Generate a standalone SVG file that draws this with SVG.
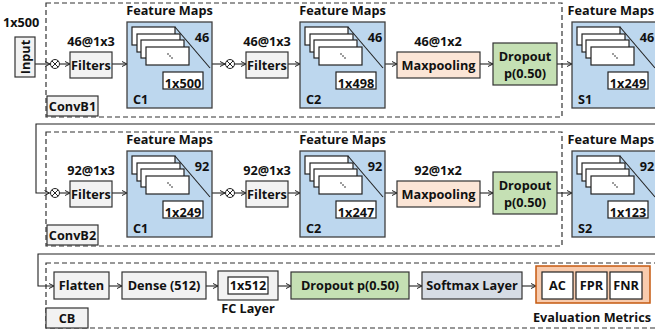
<svg xmlns="http://www.w3.org/2000/svg" width="655" height="333" viewBox="0 0 655 333">
<defs>
<style>
text{font-family:"Open Sans","Noto Sans","Liberation Sans",sans-serif;font-weight:700;fill:#111;}
.t{font-size:12.7px;text-anchor:middle;}
.tl{font-size:12.7px;}
.te{font-size:12.7px;text-anchor:end;}
.box{fill:#f2f2f2;stroke:#333;stroke-width:1.2;}
.wb{fill:#fff;stroke:#222;stroke-width:1.2;}
.fm{fill:#bdd7ee;stroke:#404040;stroke-width:1.3;}
.dash{fill:none;stroke:#333;stroke-width:1.2;stroke-dasharray:5,3;}
.arr{fill:none;stroke:#222;stroke-width:1.1;marker-end:url(#ah);}
.mp{fill:#fbe5d6;stroke:#333;stroke-width:1.2;}
.dr{fill:#c5e0b4;stroke:#333;stroke-width:1.2;}
.sm{fill:#d6dce5;stroke:#333;stroke-width:1.2;}
.ev{fill:#f8cbad;stroke:#c55a11;stroke-width:1.5;}
</style>
<marker id="ah" markerWidth="6" markerHeight="6" refX="5.5" refY="3" orient="auto" markerUnits="userSpaceOnUse">
<path d="M0.5,0.5 L5.5,3 L0.5,5.5" fill="none" stroke="#222" stroke-width="1"/>
</marker>
<g id="fmap">
<rect class="fm" x="0" y="0" width="85" height="86"/>
<rect class="wb" x="5" y="5" width="43" height="18"/>
<rect class="wb" x="10" y="12" width="43" height="18"/>
<rect class="wb" x="14" y="18" width="43" height="18"/>
<rect class="wb" x="19" y="25" width="43" height="18"/>
<line x1="48" y1="5" x2="83" y2="46" stroke="#222" stroke-width="1.1"/>
<circle cx="41" cy="32" r="0.8" fill="#222"/>
<circle cx="43" cy="34" r="0.8" fill="#222"/>
<circle cx="45" cy="36" r="0.8" fill="#222"/>
<rect class="wb" x="36" y="50" width="40" height="17"/>
</g>
<g id="otimes">
<circle cx="0" cy="0" r="4.5" fill="#fff" stroke="#222" stroke-width="1"/>
<line x1="-3.2" y1="-3.2" x2="3.2" y2="3.2" stroke="#222" stroke-width="1"/>
<line x1="-3.2" y1="3.2" x2="3.2" y2="-3.2" stroke="#222" stroke-width="1"/>
</g>
</defs>
<rect width="655" height="333" fill="#fff"/>

<!-- containers -->
<g id="convb1">
<rect class="dash" x="46" y="3" width="516" height="114"/>
<rect class="box" x="47" y="96" width="51" height="20"/>
<text class="t" x="72.5" y="110.5">ConvB1</text>
</g>
<g id="convb2">
<rect class="dash" x="46" y="132" width="516" height="114"/>
<rect class="box" x="47" y="225" width="51" height="20"/>
<text class="t" x="72.5" y="239.5">ConvB2</text>
</g>
<g id="cb">
<rect class="dash" x="46" y="263" width="640" height="65"/>
<rect class="box" x="46" y="308" width="42" height="20"/>
<text class="t" x="67" y="322.5">CB</text>
</g>

<!-- connectors -->
<g id="connectors">
<line class="arr" x1="35" y1="64" x2="50" y2="64"/>
<line class="arr" x1="59.5" y1="64" x2="70" y2="64"/>
<line class="arr" x1="112" y1="64" x2="127" y2="64"/>
<line class="arr" x1="212" y1="64" x2="225" y2="64"/>
<line class="arr" x1="234.5" y1="64" x2="246" y2="64"/>
<line class="arr" x1="288" y1="64" x2="300" y2="64"/>
<line class="arr" x1="385" y1="64" x2="397" y2="64"/>
<line class="arr" x1="480" y1="64" x2="493" y2="64"/>
<line class="arr" x1="557" y1="64" x2="572" y2="64"/>
<polyline class="arr" points="660,124 36,124 36,193 49.5,193"/>
<line class="arr" x1="59.5" y1="193" x2="70" y2="193"/>
<line class="arr" x1="112" y1="193" x2="127" y2="193"/>
<line class="arr" x1="212" y1="193" x2="225" y2="193"/>
<line class="arr" x1="234.5" y1="193" x2="246" y2="193"/>
<line class="arr" x1="288" y1="193" x2="300" y2="193"/>
<line class="arr" x1="385" y1="193" x2="397" y2="193"/>
<line class="arr" x1="480" y1="193" x2="493" y2="193"/>
<line class="arr" x1="557" y1="193" x2="572" y2="193"/>
<polyline class="arr" points="660,254 38,254 38,286 54,286"/>
<line class="arr" x1="109" y1="286" x2="122" y2="286"/>
<line class="arr" x1="206" y1="286" x2="218" y2="286"/>
<line class="arr" x1="278" y1="286" x2="291" y2="286"/>
<line class="arr" x1="409" y1="286" x2="422" y2="286"/>
<line class="arr" x1="522" y1="286" x2="536" y2="286"/>
</g>

<!-- row 1 -->
<g id="input">
<text class="tl" x="3" y="27">1x500</text>
<rect class="box" x="15" y="37" width="20" height="40"/>
<text class="t" transform="translate(29.5,57) rotate(-90)">Input</text>
</g>
<g id="mul1"><use href="#otimes" x="55" y="64"/></g>
<g id="filters1">
<text class="t" x="91" y="46">46@1x3</text>
<rect class="box" x="70" y="52" width="42" height="26"/>
<text class="t" x="91" y="69.5">Filters</text>
</g>
<g id="c1a">
<text class="t" x="169.5" y="15">Feature Maps</text>
<use href="#fmap" x="127" y="22"/>
<text class="t" x="202" y="42">46</text>
<text class="t" x="183" y="88">1x500</text>
<text class="tl" x="133" y="104">C1</text>
</g>
<g id="mul2"><use href="#otimes" x="230" y="64"/></g>
<g id="filters2">
<text class="t" x="267" y="46">46@1x3</text>
<rect class="box" x="246" y="52" width="42" height="26"/>
<text class="t" x="267" y="69.5">Filters</text>
</g>
<g id="c2a">
<text class="t" x="342.5" y="15">Feature Maps</text>
<use href="#fmap" x="300" y="22"/>
<text class="t" x="375" y="42">46</text>
<text class="t" x="356" y="88">1x498</text>
<text class="tl" x="306" y="104">C2</text>
</g>
<g id="maxpool1">
<text class="t" x="438" y="46">46@1x2</text>
<rect class="mp" x="397" y="52" width="83" height="26"/>
<text class="t" x="438.5" y="69.5">Maxpooling</text>
</g>
<g id="dropout1">
<rect class="dr" x="493" y="43" width="64" height="42"/>
<text class="t" x="525" y="61">Dropout</text>
<text class="t" x="525" y="78">p(0.50)</text>
</g>
<g id="s1">
<text class="te" x="654" y="15">Feature Maps</text>
<use href="#fmap" x="572" y="22"/>
<text class="t" x="647" y="42">46</text>
<text class="t" x="628" y="88">1x249</text>
<text class="tl" x="578" y="104">S1</text>
</g>

<!-- row 2 -->
<g id="mul3"><use href="#otimes" x="55" y="193"/></g>
<g id="filters3">
<text class="t" x="91" y="175">92@1x3</text>
<rect class="box" x="70" y="181" width="42" height="26"/>
<text class="t" x="91" y="198.5">Filters</text>
</g>
<g id="c1b">
<text class="t" x="169.5" y="144">Feature Maps</text>
<use href="#fmap" x="127" y="151"/>
<text class="t" x="202" y="171">92</text>
<text class="t" x="183" y="217">1x249</text>
<text class="tl" x="133" y="233">C1</text>
</g>
<g id="mul4"><use href="#otimes" x="230" y="193"/></g>
<g id="filters4">
<text class="t" x="267" y="175">92@1x3</text>
<rect class="box" x="246" y="181" width="42" height="26"/>
<text class="t" x="267" y="198.5">Filters</text>
</g>
<g id="c2b">
<text class="t" x="342.5" y="144">Feature Maps</text>
<use href="#fmap" x="300" y="151"/>
<text class="t" x="375" y="171">92</text>
<text class="t" x="356" y="217">1x247</text>
<text class="tl" x="306" y="233">C2</text>
</g>
<g id="maxpool2">
<text class="t" x="438" y="175">92@1x2</text>
<rect class="mp" x="397" y="181" width="83" height="26"/>
<text class="t" x="438.5" y="198.5">Maxpooling</text>
</g>
<g id="dropout2">
<rect class="dr" x="493" y="172" width="64" height="42"/>
<text class="t" x="525" y="190">Dropout</text>
<text class="t" x="525" y="207">p(0.50)</text>
</g>
<g id="s2">
<text class="te" x="654" y="144">Feature Maps</text>
<use href="#fmap" x="572" y="151"/>
<text class="t" x="647" y="171">92</text>
<text class="t" x="628" y="217">1x123</text>
<text class="tl" x="578" y="233">S2</text>
</g>

<!-- row 3 -->
<g id="flatten">
<rect class="box" x="54" y="272" width="55" height="27"/>
<text class="t" x="81.5" y="290">Flatten</text>
</g>
<g id="dense">
<rect class="box" x="122" y="272" width="84" height="27"/>
<text class="t" x="164" y="290">Dense (512)</text>
</g>
<g id="fc">
<rect class="box" x="218" y="271" width="60" height="29"/>
<rect class="wb" x="228" y="277" width="40" height="17"/>
<text class="t" x="248" y="290">1x512</text>
<text class="t" x="248" y="313">FC Layer</text>
</g>
<g id="dropout3">
<rect class="dr" x="291" y="272" width="118" height="27"/>
<text class="t" x="350" y="290">Dropout p(0.50)</text>
</g>
<g id="softmax">
<rect class="sm" x="422" y="272" width="100" height="27"/>
<text class="t" x="472" y="290">Softmax Layer</text>
</g>
<g id="eval">
<rect class="ev" x="536" y="266" width="114" height="37"/>
<rect class="wb" x="542" y="272" width="31" height="27"/>
<text class="t" x="557.5" y="290">AC</text>
<rect class="wb" x="576" y="272" width="31" height="27"/>
<text class="t" x="591.5" y="290">FPR</text>
<rect class="wb" x="610" y="272" width="32" height="27"/>
<text class="t" x="626" y="290">FNR</text>
<text class="t" x="592" y="322">Evaluation Metrics</text>
</g>
</svg>
